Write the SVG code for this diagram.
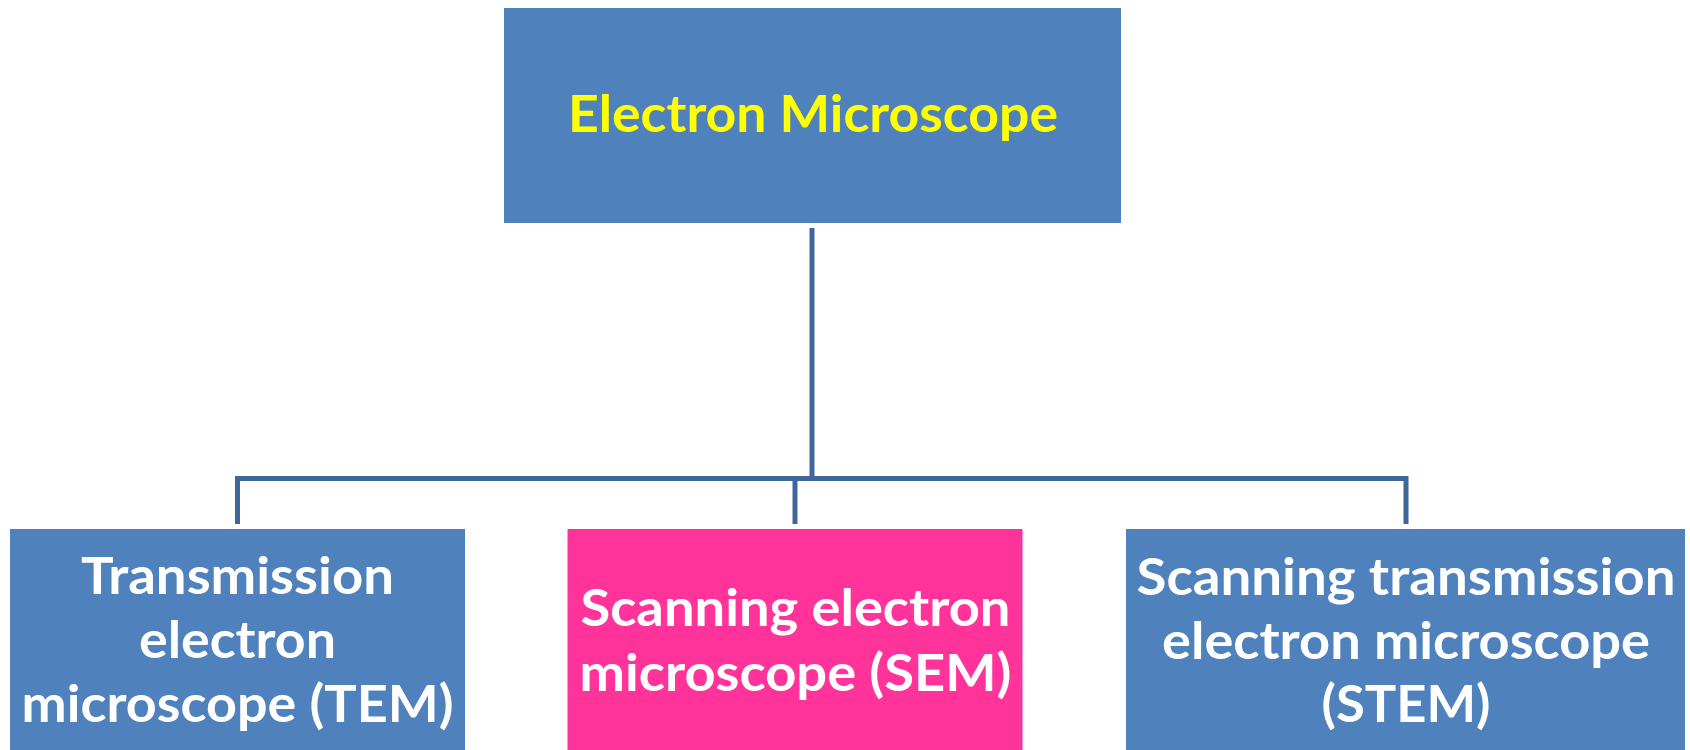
<svg xmlns="http://www.w3.org/2000/svg" width="1690" height="750" viewBox="0 0 1690 750">
<style>
.blue{fill:#4F81BD}
.pink{fill:#FF3399}
.t{font-family:Lato,"Open Sans","Liberation Sans",sans-serif;font-weight:bold;font-size:52px;text-anchor:middle}
.w{fill:#FFFFFF}
.y{fill:#FFFF00}
.c{stroke:#41679A;stroke-width:5;fill:none;stroke-linecap:butt}
</style>
<rect width="1690" height="750" fill="#FFFFFF"/>
<g id="connectors">
<line class="c" x1="812" y1="228" x2="812" y2="478.5"/>
<line class="c" x1="237.5" y1="478.5" x2="1406" y2="478.5"/>
<line class="c" x1="237.5" y1="476" x2="237.5" y2="524"/>
<line class="c" x1="795" y1="478.5" x2="795" y2="524"/>
<line class="c" x1="1406" y1="476" x2="1406" y2="524"/>
</g>
<g id="electron-microscope">
<rect class="blue" x="504" y="8" width="617" height="215"/>
<text class="t y" x="813" y="132" textLength="490" lengthAdjust="spacingAndGlyphs">Electron Microscope</text>
</g>
<g id="tem">
<rect class="blue" x="10" y="529" width="455" height="221"/>
<text class="t w" x="237.5" y="594" textLength="313" lengthAdjust="spacingAndGlyphs">Transmission</text>
<text class="t w" x="237.5" y="658" textLength="197" lengthAdjust="spacingAndGlyphs">electron</text>
<text class="t w" x="237.5" y="722" textLength="432" lengthAdjust="spacingAndGlyphs">microscope (TEM)</text>
</g>
<g id="sem">
<rect class="pink" x="567.5" y="529" width="455" height="221"/>
<text class="t w" x="795.5" y="626" textLength="430" lengthAdjust="spacingAndGlyphs">Scanning electron</text>
<text class="t w" x="795.5" y="690.5" textLength="432" lengthAdjust="spacingAndGlyphs">microscope (SEM)</text>
</g>
<g id="stem">
<rect class="blue" x="1126" y="529" width="559" height="221"/>
<text class="t w" x="1406" y="595" textLength="539" lengthAdjust="spacingAndGlyphs">Scanning transmission</text>
<text class="t w" x="1406" y="659" textLength="488" lengthAdjust="spacingAndGlyphs">electron microscope</text>
<text class="t w" x="1406" y="722" textLength="169" lengthAdjust="spacingAndGlyphs">(STEM)</text>
</g>
</svg>
